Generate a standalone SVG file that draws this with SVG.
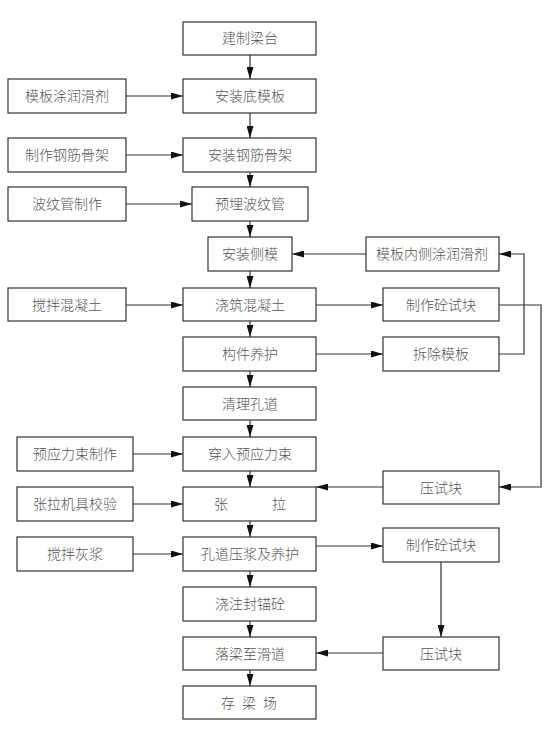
<svg xmlns="http://www.w3.org/2000/svg" width="554" height="729" viewBox="0 0 554 729">
<style>
.b{fill:#fff;stroke:#333;stroke-width:1.2}
.t{font-family:"Liberation Serif","Noto Sans CJK SC",serif;font-size:14px;font-weight:300;fill:#555;text-anchor:middle}
.c{fill:none;stroke:#333;stroke-width:1.2}
</style>
<defs>
<marker id="a" viewBox="0 0 12 7" refX="12" refY="3.5" markerWidth="12" markerHeight="7" markerUnits="userSpaceOnUse" orient="auto">
<path d="M0,0 L12,3.5 L0,7 z" fill="#111"/>
</marker>
</defs>
<rect width="554" height="729" fill="#fff"/>
<g id="connectors" class="c" marker-end="url(#a)">
<line x1="250" y1="55" x2="250" y2="79"/>
<line x1="250" y1="113" x2="250" y2="138"/>
<line x1="250" y1="172" x2="250" y2="187"/>
<line x1="250" y1="221" x2="250" y2="237"/>
<line x1="250" y1="271" x2="250" y2="288"/>
<line x1="250" y1="321" x2="250" y2="337"/>
<line x1="250" y1="371" x2="250" y2="387"/>
<line x1="250" y1="420" x2="250" y2="437"/>
<line x1="250" y1="471" x2="250" y2="487"/>
<line x1="250" y1="521" x2="250" y2="537"/>
<line x1="250" y1="571" x2="250" y2="587"/>
<line x1="250" y1="621" x2="250" y2="637"/>
<line x1="250" y1="670" x2="250" y2="686"/>
<line x1="126" y1="96" x2="183" y2="96"/>
<line x1="126" y1="155" x2="183" y2="155"/>
<line x1="126" y1="204" x2="192" y2="204"/>
<line x1="366" y1="254" x2="292" y2="254"/>
<line x1="126" y1="305" x2="183" y2="305"/>
<line x1="316" y1="305" x2="383" y2="305"/>
<line x1="316" y1="354" x2="383" y2="354"/>
<polyline points="499,354 524,354 524,254 499,254"/>
<polyline points="499,305 541,305 541,487 499,487"/>
<line x1="383" y1="487" x2="316" y2="487"/>
<line x1="133" y1="454" x2="183" y2="454"/>
<line x1="133" y1="504" x2="183" y2="504"/>
<line x1="133" y1="554" x2="183" y2="554"/>
<line x1="316" y1="546" x2="383" y2="546"/>
<line x1="441" y1="562" x2="441" y2="637"/>
<line x1="383" y1="653" x2="316" y2="653"/>
</g>
<g id="n1"><rect class="b" x="183" y="22" width="133" height="33"/><text class="t" x="250" y="43">建制梁台</text></g>
<g id="n2"><rect class="b" x="183" y="79" width="133" height="34"/><text class="t" x="250" y="101">安装底模板</text></g>
<g id="n3"><rect class="b" x="8" y="79" width="118" height="34"/><text class="t" x="67" y="101">模板涂润滑剂</text></g>
<g id="n4"><rect class="b" x="183" y="138" width="133" height="34"/><text class="t" x="250" y="160">安装钢筋骨架</text></g>
<g id="n5"><rect class="b" x="8" y="138" width="118" height="34"/><text class="t" x="67" y="160">制作钢筋骨架</text></g>
<g id="n6"><rect class="b" x="8" y="187" width="118" height="34"/><text class="t" x="67" y="209">波纹管制作</text></g>
<g id="n7"><rect class="b" x="192" y="187" width="116" height="34"/><text class="t" x="250" y="209">预埋波纹管</text></g>
<g id="n8"><rect class="b" x="208" y="237" width="84" height="34"/><text class="t" x="250" y="259">安装侧模</text></g>
<g id="n9"><rect class="b" x="366" y="237" width="133" height="34"/><text class="t" x="432" y="259">模板内侧涂润滑剂</text></g>
<g id="n10"><rect class="b" x="8" y="288" width="118" height="33"/><text class="t" x="67" y="310">搅拌混凝土</text></g>
<g id="n11"><rect class="b" x="183" y="288" width="133" height="33"/><text class="t" x="250" y="310">浇筑混凝土</text></g>
<g id="n12"><rect class="b" x="383" y="288" width="116" height="33"/><text class="t" x="441" y="310">制作砼试块</text></g>
<g id="n13"><rect class="b" x="183" y="337" width="133" height="34"/><text class="t" x="250" y="359">构件养护</text></g>
<g id="n14"><rect class="b" x="383" y="337" width="116" height="34"/><text class="t" x="441" y="359">拆除模板</text></g>
<g id="n15"><rect class="b" x="183" y="387" width="133" height="33"/><text class="t" x="250" y="409">清理孔道</text></g>
<g id="n16"><rect class="b" x="17" y="437" width="116" height="34"/><text class="t" x="75" y="459">预应力束制作</text></g>
<g id="n17"><rect class="b" x="183" y="437" width="133" height="34"/><text class="t" x="250" y="459">穿入预应力束</text></g>
<g id="n18"><rect class="b" x="383" y="471" width="116" height="33"/><text class="t" x="441" y="493">压试块</text></g>
<g id="n19"><rect class="b" x="17" y="487" width="116" height="34"/><text class="t" x="75" y="509">张拉机具校验</text></g>
<g id="n20"><rect class="b" x="183" y="487" width="133" height="34"/><text class="t" x="221 279" y="509">张拉</text></g>
<g id="n21"><rect class="b" x="383" y="528" width="116" height="34"/><text class="t" x="441" y="550">制作砼试块</text></g>
<g id="n22"><rect class="b" x="17" y="537" width="116" height="34"/><text class="t" x="75" y="559">搅拌灰浆</text></g>
<g id="n23"><rect class="b" x="183" y="537" width="133" height="34"/><text class="t" x="250" y="559">孔道压浆及养护</text></g>
<g id="n24"><rect class="b" x="183" y="587" width="133" height="34"/><text class="t" x="250" y="609">浇注封锚砼</text></g>
<g id="n25"><rect class="b" x="183" y="637" width="133" height="33"/><text class="t" x="250" y="659">落梁至滑道</text></g>
<g id="n26"><rect class="b" x="383" y="637" width="116" height="33"/><text class="t" x="441" y="659">压试块</text></g>
<g id="n27"><rect class="b" x="183" y="686" width="133" height="33"/><text class="t" x="228 249 270" y="708">存梁场</text></g>
</svg>
